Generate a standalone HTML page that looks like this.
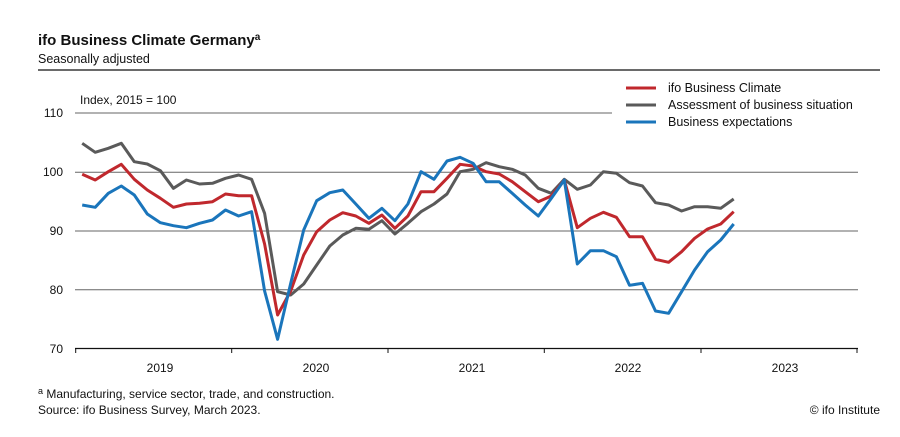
<!DOCTYPE html>
<html><head><meta charset="utf-8"><style>
body{margin:0;background:#fff;width:900px;height:432px;overflow:hidden;font-family:"Liberation Sans",sans-serif}
</style></head><body>
<svg id="s" width="900" height="432" xmlns="http://www.w3.org/2000/svg" font-family="Liberation Sans, sans-serif">
<text x="38" y="45" font-size="15" font-weight="bold" fill="#111">ifo Business Climate Germany<tspan font-size="10" dy="-5">a</tspan></text>
<text x="38" y="63" font-size="12.5" fill="#111">Seasonally adjusted</text>
<line x1="38" y1="70" x2="880" y2="70" stroke="#111" stroke-width="1.3"/>
<text x="80" y="104" font-size="12" fill="#111">Index, 2015 = 100</text>
<line x1="75" y1="113" x2="612" y2="113" stroke="#666" stroke-width="1"/>
<g stroke="#666" stroke-width="1">
<line x1="75" y1="172.3" x2="858" y2="172.3"/>
<line x1="75" y1="231" x2="858" y2="231"/>
<line x1="75" y1="289.7" x2="858" y2="289.7"/>
</g>
<line x1="75" y1="348.5" x2="858" y2="348.5" stroke="#111" stroke-width="1.2"/>
<g stroke="#111" stroke-width="1">
<line x1="75.7" y1="348" x2="75.7" y2="353"/><line x1="231.7" y1="348" x2="231.7" y2="353"/>
<line x1="388" y1="348" x2="388" y2="353"/><line x1="544.3" y1="348" x2="544.3" y2="353"/>
<line x1="701" y1="348" x2="701" y2="353"/><line x1="857" y1="348" x2="857" y2="353"/>
</g>
<g font-size="12" fill="#111" text-anchor="end">
<text x="63" y="117">110</text><text x="63" y="176">100</text><text x="63" y="235">90</text><text x="63" y="294">80</text><text x="63" y="353">70</text>
</g>
<g font-size="12" fill="#111" text-anchor="middle">
<text x="160" y="372">2019</text><text x="316" y="372">2020</text><text x="472" y="372">2021</text><text x="628" y="372">2022</text><text x="785" y="372">2023</text>
</g>
<g font-size="12.5" fill="#111">
<line x1="626" y1="88" x2="656" y2="88" stroke="#c0282d" stroke-width="3"/><text x="668" y="92">ifo Business Climate</text>
<line x1="626" y1="105" x2="656" y2="105" stroke="#5a5a5a" stroke-width="3"/><text x="668" y="109">Assessment of business situation</text>
<line x1="626" y1="122" x2="656" y2="122" stroke="#1a75bb" stroke-width="3"/><text x="668" y="126">Business expectations</text>
</g>
<g id="lines"></g>
<text x="38" y="398" font-size="12" fill="#111"><tspan font-size="9" dy="-4">a</tspan><tspan dy="4"> Manufacturing, service sector, trade, and construction.</tspan></text>
<text x="38" y="414" font-size="12" fill="#111">Source: ifo Business Survey, March 2023.</text>
<text x="880" y="414" font-size="12" fill="#111" text-anchor="end">© ifo Institute</text>
</svg>
<script>
var z1={r:[133,150,125,103,148,180,205,232,222,220,215,192,197,197,342,555,483,375,305,270,248,258,280,255,295],
b:[225,232,190,168,195,252,278,287,293,280,270,240,258,245,483,628,460,300,212,188,180,222,265,235,272],
g:[40,67,55,40,95,102,122,175,150,162,160,145,135,148,250,485,495,462,405,348,315,295,298,272,312]};
var z2={r:[258,185,185,145,103,108,125,132,155,185,215,198,150,293,265,247,262,320,320,388,397,365,325,297,282,245],
b:[222,125,148,93,82,100,155,155,190,225,258,205,150,402,362,362,380,466,460,543,550,485,420,365,330,282],
g:[280,245,222,192,125,118,98,110,118,135,175,190,148,178,165,125,130,158,168,218,225,243,230,230,235,207]};
var col={g:"#5a5a5a",r:"#c0282d",b:"#1a75bb"};
var h="";
["g","r","b"].forEach(function(k){
 var a=z1[k].concat(z2[k]);var p=[];
 for(var i=0;i<a.length;i++){p.push((82.2+13.03*i).toFixed(1)+","+(130+a[i]/3).toFixed(1));}
 h+='<polyline fill="none" stroke="'+col[k]+'" stroke-width="3" stroke-linejoin="round" points="'+p.join(" ")+'"/>';
});
document.getElementById("lines").innerHTML=h;
</script>
</body></html>
